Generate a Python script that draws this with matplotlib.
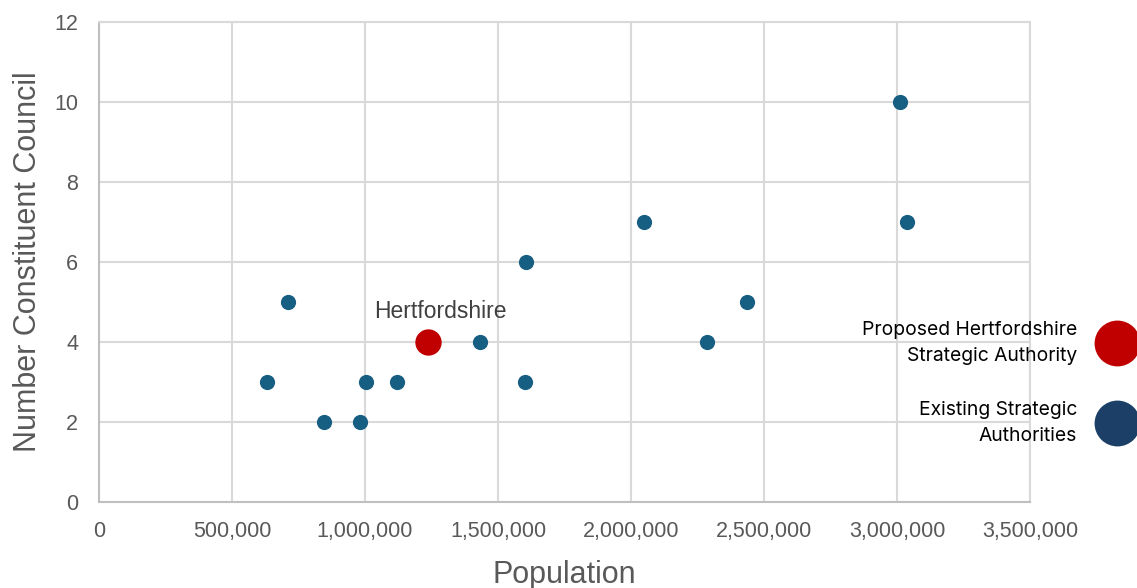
import numpy as np
import matplotlib.pyplot as plt
from matplotlib.lines import Line2D
from matplotlib.ticker import FuncFormatter

# existing strategic authorities: population vs number of constituent councils
pop_existing = [632000, 711000, 846000, 981000, 1004000, 1120000, 1432000,
                1602000, 1607000, 2049000, 2286000, 2436000, 3011000, 3037000]
councils_existing = [3, 5, 2, 2, 3, 3, 4, 3, 6, 7, 4, 5, 10, 7]

# proposed Hertfordshire authority
pop_herts = [1237000]
councils_herts = [4]

blue = '#175e83'
red = '#c00000'
navy = '#1b3f66'
grey = '#595959'
grid_c = '#d9d9d9'

fig = plt.figure(figsize=(11.37, 5.88), dpi=100)
ax = fig.add_axes([0.0871, 0.1463, 0.8188, 0.8163])

ax.scatter(pop_existing, councils_existing, s=120, color=blue, zorder=3, linewidths=0)
ax.scatter(pop_herts, councils_herts, s=360, color=red, zorder=4, linewidths=0)
ax.annotate('Hertfordshire', (pop_herts[0], councils_herts[0]), xytext=(9, 14),
            textcoords='offset points', ha='center', va='bottom',
            fontsize=16.5, color='#404040', family='Liberation Sans')

ax.set_xlim(0, 3500000)
ax.set_ylim(0, 12)
ax.set_xticks(np.arange(0, 3500001, 500000))
ax.set_yticks(np.arange(0, 13, 2))
ax.xaxis.set_major_formatter(FuncFormatter(lambda v, p: '{:,.0f}'.format(v)))
ax.grid(True, color=grid_c, linewidth=1.5, zorder=0)
ax.set_axisbelow(True)
for side in ['top', 'right']:
    ax.spines[side].set_color(grid_c)
    ax.spines[side].set_linewidth(1.5)
for side in ['left', 'bottom']:
    ax.spines[side].set_color('#bfbfbf')
    ax.spines[side].set_linewidth(1.5)
ax.tick_params(length=0, labelsize=15.5, labelcolor=grey)
ax.tick_params(axis='x', pad=14)
ax.tick_params(axis='y', pad=15)
for lab in ax.get_xticklabels() + ax.get_yticklabels():
    lab.set_family('Liberation Sans')

ax.set_xlabel('Population', fontsize=22, color=grey, family='Liberation Sans', labelpad=13)
ax.set_ylabel('Number Constituent Council', fontsize=22, color=grey,
              family='Liberation Sans', labelpad=8)

# legend drawn by hand on the right
fig.add_artist(Line2D([0.9824], [0.4167], marker='o', markersize=33, color=red,
                      markeredgewidth=0, transform=fig.transFigure))
fig.add_artist(Line2D([0.9824], [0.2806], marker='o', markersize=33, color=navy,
                      markeredgewidth=0, transform=fig.transFigure))
fig.text(0.9472, 0.4167, 'Proposed Hertfordshire\nStrategic Authority', ha='right',
         va='center', multialignment='right', fontsize=13.9, color='black',
         family='Inter', linespacing=1.55)
fig.text(0.9472, 0.2806, 'Existing Strategic\nAuthorities', ha='right',
         va='center', multialignment='right', fontsize=13.9, color='black',
         family='Inter', linespacing=1.55)

fig.savefig('out.png', dpi=100)
